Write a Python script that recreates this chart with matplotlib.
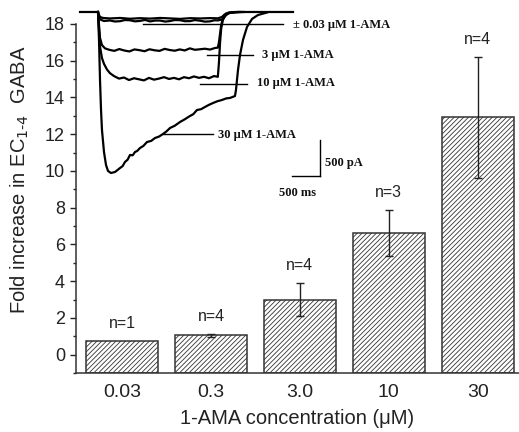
import matplotlib
matplotlib.use("Agg")
import matplotlib.pyplot as plt
import numpy as np

plt.rcParams["font.family"] = ["Liberation Sans", "DejaVu Sans"]
plt.rcParams["hatch.linewidth"] = 0.6

# bar chart data
conc_labels = ["0.03", "0.3", "3.0", "10", "30"]
fold_increase = [0.76, 1.05, 3.0, 6.62, 12.93]
fold_sem = [0.0, 0.1, 0.88, 1.25, 3.3]
n_cells = [1, 4, 4, 3, 4]

# inset current traces (time in ms, current in pA)
ctrl_t = [-321, 0, 18, 36, 89, 214, 393, 571, 750, 929, 1107, 1286, 1464, 1643, 1821, 2000, 2143, 2214, 2250, 2286, 2339, 2446, 3482]
ctrl_i = [0, 0, -42, -69, -83, -90, -83, -94, -86, -92, -83, -89, -96, -86, -90, -85, -88, -69, -42, -21, -7, 0, 0]

ama003_t = [0, 18, 54, 107, 214, 300, 393, 480, 571, 660, 750, 840, 929, 1020, 1107, 1200, 1286, 1370, 1464, 1550, 1643, 1730, 1821, 1910, 2000, 2080, 2143, 2232, 2268, 2304, 2357, 2500]
ama003_i = [0, -55, -110, -125, -118, -132, -128, -112, -115, -130, -124, -110, -131, -119, -119, -133, -126, -112, -114, -128, -127, -112, -121, -134, -130, -115, -117, -100, -60, -28, -10, 0]

ama3_t = [0, 18, 36, 71, 125, 200, 290, 380, 470, 560, 650, 740, 830, 920, 1010, 1100, 1190, 1280, 1370, 1460, 1550, 1640, 1730, 1820, 1910, 2000, 2090, 2140, 2160, 2180, 2200, 2230, 2270, 2330, 2420, 2550]
ama3_i = [0, -180, -360, -460, -505, -525, -540, -515, -535, -548, -520, -530, -545, -518, -532, -540, -512, -528, -538, -520, -534, -505, -525, -518, -510, -522, -500, -495, -420, -300, -180, -90, -40, -15, -3, 0]

ama10_t = [0, 18, 36, 71, 107, 161, 214, 286, 375, 464, 554, 643, 732, 821, 911, 1000, 1089, 1179, 1268, 1357, 1446, 1536, 1625, 1714, 1804, 1893, 1982, 2071, 2140, 2160, 2180, 2200, 2230, 2270, 2340, 2450, 2600]
ama10_i = [0, -250, -480, -640, -720, -800, -850, -890, -925, -910, -945, -920, -935, -950, -915, -940, -925, -905, -930, -915, -935, -905, -920, -895, -915, -900, -920, -890, -900, -700, -420, -230, -110, -50, -15, -3, 0]

ama30_t = [0, 18, 36, 54, 71, 107, 143, 179, 232, 304, 393, 440, 482, 530, 571, 620, 661, 700, 750, 810, 875, 950, 1018, 1090, 1161, 1220, 1286, 1370, 1464, 1550, 1643, 1700, 1768, 1840, 1911, 1980, 2054, 2130, 2214, 2290, 2357, 2420, 2446, 2464, 2482, 2500, 2536, 2589, 2661, 2750, 2857, 3018]
ama30_i = [0, -389, -944, -1361, -1639, -1944, -2125, -2208, -2236, -2222, -2167, -2140, -2083, -2050, -1986, -1990, -1944, -1930, -1889, -1860, -1806, -1790, -1750, -1730, -1694, -1660, -1611, -1580, -1528, -1490, -1444, -1420, -1361, -1350, -1319, -1290, -1264, -1240, -1222, -1200, -1194, -1175, -1167, -1083, -944, -806, -597, -389, -208, -97, -42, -7]

scale_ms = 500
scale_pA = 500

fig = plt.figure(figsize=(5.19, 4.32), dpi=100)
ax = fig.add_axes([76 / 519, 59 / 432, 443 / 519, 349 / 432])

x = np.arange(len(conc_labels))
ymin = -1
heights = [v - ymin for v in fold_increase]
ax.bar(x, heights, bottom=ymin, width=0.81, color="white", edgecolor="#333333",
       hatch="///////", linewidth=1.1, zorder=2)

for i in range(len(x)):
    if fold_sem[i] > 0:
        ax.errorbar(x[i], fold_increase[i], yerr=fold_sem[i], fmt="none", ecolor="#222222",
                    elinewidth=1.0, capsize=3, capthick=1.0, zorder=3)
    top = fold_increase[i] + fold_sem[i]
    ax.text(x[i], top + 0.95, "n=%d" % n_cells[i], ha="center", va="center",
            fontsize=11.5, color="#222222")

ax.set_xlim(-0.52, 4.466)
ax.set_ylim(ymin, 18)
ax.set_xticks(x)
ax.set_xticklabels(conc_labels)
ax.set_yticks(range(0, 19, 2))
ax.set_yticks(range(-1, 19, 1), minor=True)
ax.tick_params(axis="x", length=0, pad=8, labelsize=14, colors="#222222")
ax.tick_params(axis="y", which="major", length=4, width=1.0, pad=4, labelsize=13, colors="#222222")
ax.tick_params(axis="y", which="minor", length=2.2, width=1.0, colors="#222222")
ax.spines["top"].set_visible(False)
ax.spines["right"].set_visible(False)
for s in ["left", "bottom"]:
    ax.spines[s].set_linewidth(1.1)
    ax.spines[s].set_color("#333333")

ax.set_xlabel("1-AMA concentration (\u03bcM)", fontsize=14.5, color="#222222", labelpad=6)
ax.set_ylabel("Fold increase in EC$_{1\u20104}$  GABA", fontsize=14.5, color="#222222")
ax.yaxis.set_label_coords(-0.102, 0.553)

# inset with the current traces
ins = fig.add_axes([77 / 519, 232 / 432, 323 / 519, 195 / 432])
ins.set_xlim(-375, 5393)
ins.set_ylim(-2611, 97)
ins.axis("off")
ins.patch.set_alpha(0)

for tt, ii in [(ctrl_t, ctrl_i), (ama003_t, ama003_i), (ama3_t, ama3_i),
               (ama10_t, ama10_i), (ama30_t, ama30_i)]:
    ins.plot(tt, ii, color="black", linewidth=1.6, clip_on=False)

lab_font = dict(family=["Liberation Serif", "DejaVu Serif"], fontweight="bold", fontsize=9,
                va="center", ha="left", color="#111111")
labels = [("\u00b1 0.03 \u03bcM 1-AMA", 804, 3304, -167, 3482, -180),
          ("3 \u03bcM 1-AMA", 1946, 2768, -597, 2929, -597),
          ("10 \u03bcM 1-AMA", 1821, 2661, -1000, 2839, -986),
          ("30 \u03bcM 1-AMA", 1161, 2054, -1694, 2143, -1708)]
for txt, x0, x1, yl, xt, yt in labels:
    ins.plot([x0, x1], [yl, yl], color="black", linewidth=1.0, clip_on=False)
    ins.text(xt, yt, txt, clip_on=False, **lab_font)

sb_x, sb_y = 3964, -2278
ins.plot([sb_x, sb_x], [sb_y, sb_y + scale_pA], color="black", linewidth=1.0, clip_on=False)
ins.plot([sb_x - scale_ms, sb_x], [sb_y, sb_y], color="black", linewidth=1.0, clip_on=False)
ins.text(sb_x + 90, -2097, "500 pA", clip_on=False, **lab_font)
ins.text(sb_x - scale_ms / 2 - 150, -2514, "500 ms", clip_on=False,
         **dict(lab_font, ha="center"))

fig.savefig("out.png", dpi=100)
